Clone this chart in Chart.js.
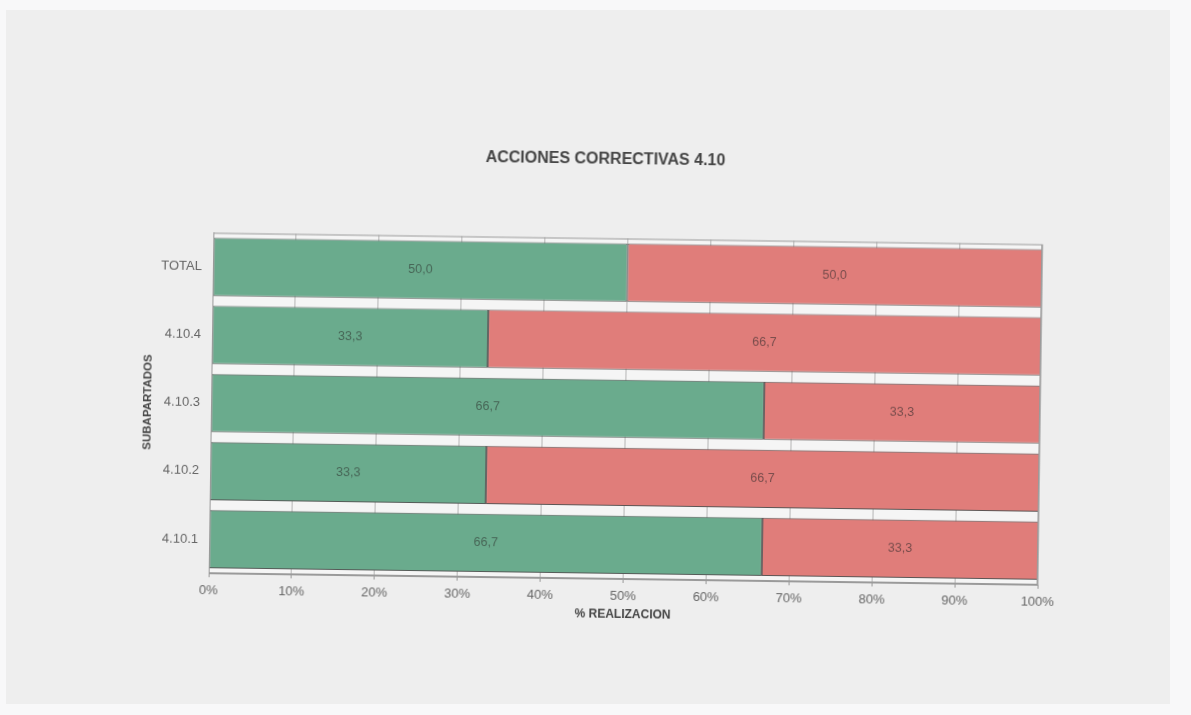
<!DOCTYPE html>
<html>
<head>
<meta charset="utf-8">
<script src="https://cdn.jsdelivr.net/npm/chart.js@4/dist/chart.umd.min.js"></script>
<style>
  html, body { margin: 0; padding: 0; background: #f8f8f9; width: 1191px; height: 715px; overflow: hidden; }
  #paper { position: absolute; left: 6px; top: 10px; width: 1164px; height: 694px; background: #eeeeee; }
  #wrap { position: absolute; left: 0; top: 0; width: 1191px; height: 715px;
          transform-origin: 625px 408px; transform: rotate(0.8deg); }
</style>
</head>
<body>
<div id="paper"></div>
<div id="wrap"><canvas id="c" width="1191" height="715"></canvas></div>
<script>
// Subapartados, top to bottom
const categories = ['TOTAL', '4.10.4', '4.10.3', '4.10.2', '4.10.1'];
// % realizado / % pendiente per subapartado
const realizado = [50.0, 33.3, 66.7, 33.3, 66.7];
const pendiente = [50.0, 66.7, 33.3, 66.7, 33.3];
const xTicks = [0, 10, 20, 30, 40, 50, 60, 70, 80, 90, 100];

const FONT = "'Liberation Sans', Arial, sans-serif";

const plotFrame = {
  id: 'plotFrame',
  beforeDraw(chart) {
    const { ctx, chartArea: a } = chart;
    ctx.save();
    ctx.fillStyle = '#f5f5f5';
    ctx.fillRect(a.left, a.top, a.right - a.left, a.bottom - a.top);
    ctx.restore();
  },
  afterDraw(chart) {
    const { ctx, chartArea: a } = chart;
    ctx.save();
    ctx.strokeStyle = '#9a9a9a';
    ctx.lineWidth = 1;
    ctx.strokeRect(a.left + 0.5, a.top + 0.5, a.right - a.left - 1, a.bottom - a.top - 1);
    // chart title
    ctx.fillStyle = '#454545';
    ctx.font = "bold 16px " + FONT;
    ctx.textAlign = 'center';
    ctx.textBaseline = 'middle';
    ctx.fillText('ACCIONES CORRECTIVAS 4.10', 602, 160);
    ctx.restore();
  }
};

const segmentLabels = {
  id: 'segmentLabels',
  afterDatasetsDraw(chart) {
    const { ctx } = chart;
    ctx.save();
    ctx.font = "12.5px " + FONT;
    ctx.textAlign = 'center';
    ctx.textBaseline = 'middle';
    chart.data.datasets.forEach((ds, di) => {
      const meta = chart.getDatasetMeta(di);
      ctx.fillStyle = ds.labelColor;
      meta.data.forEach((bar, i) => {
        const v = ds.data[i];
        const x = (bar.x + bar.base) / 2;
        ctx.fillText(v.toFixed(1).replace('.', ','), x, bar.y);
      });
    });
    ctx.restore();
  }
};

new Chart(document.getElementById('c'), {
  type: 'bar',
  data: {
    labels: categories,
    datasets: [
      { label: 'Realizado', data: realizado, backgroundColor: '#6aab8d', borderColor: '#555b58',
        borderWidth: 1, borderSkipped: false, labelColor: 'rgba(60,80,70,0.75)' },
      { label: 'Pendiente', data: pendiente, backgroundColor: '#e07d7a', borderColor: '#5c5554',
        borderWidth: 1, borderSkipped: false, labelColor: 'rgba(85,60,60,0.75)' }
    ]
  },
  options: {
    indexAxis: 'y',
    responsive: false,
    animation: false,
    layout: { padding: { left: 137, right: 151, top: 238.5, bottom: 89 } },
    datasets: { bar: { categoryPercentage: 1.0, barPercentage: 0.855 } },
    plugins: { legend: { display: false }, tooltip: { enabled: false }, title: { display: false } },
    scales: {
      x: {
        stacked: true, min: 0, max: 100,
        afterBuildTicks(scale) { scale.ticks = xTicks.map(v => ({ value: v })); },
        ticks: { callback: v => v + '%', color: '#666', font: { family: FONT, size: 13 }, padding: 6, maxRotation: 0 },
        grid: { color: '#b5b5b5', lineWidth: 1, tickLength: 4, tickColor: '#999' },
        border: { color: '#9a9a9a' },
        title: { display: true, text: '% REALIZACION', color: '#444', font: { family: FONT, size: 12, weight: 'bold' }, padding: { top: -3, bottom: 4 } }
      },
      y: {
        stacked: true,
        afterFit(scale) { scale.width = 74; },
        ticks: { color: '#666', font: { family: FONT, size: 13 }, padding: 3 },
        grid: { display: false },
        border: { color: '#9a9a9a' },
        title: { display: true, text: 'SUBAPARTADOS', color: '#444', font: { family: FONT, size: 11.5, weight: 'bold' }, padding: { top: 4, bottom: 4 } }
      }
    }
  },
  plugins: [plotFrame, segmentLabels]
});
</script>
</body>
</html>
